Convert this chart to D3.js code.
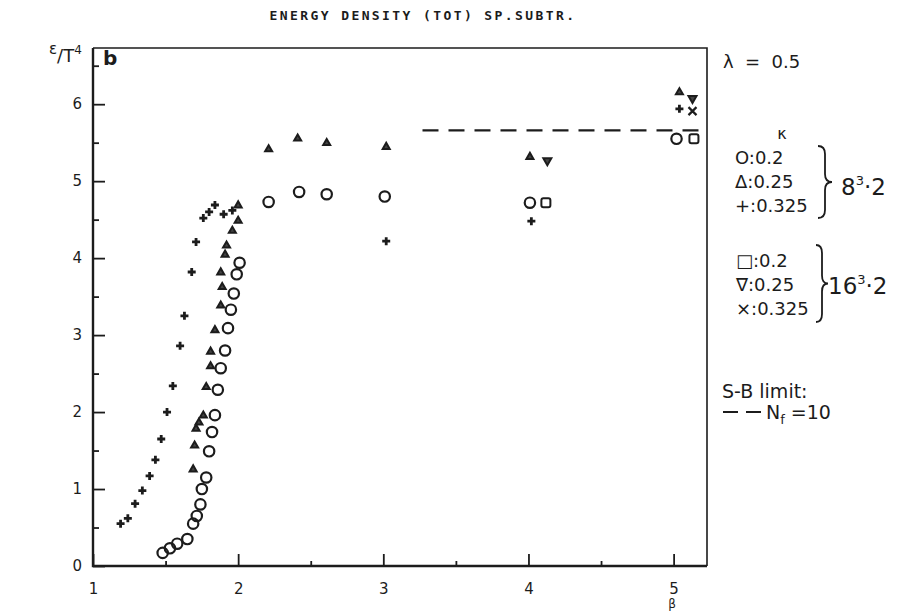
<!DOCTYPE html>
<html>
<head>
<meta charset="utf-8">
<script src="https://cdn.jsdelivr.net/npm/d3@7"></script>
<style>
  body { margin: 0; background: #fff; }
  svg text { fill: #1c1c1c; font-family: "DejaVu Sans", sans-serif; }
</style>
</head>
<body>
<div id="chart"></div>
<script>
// energy density eps/T^4 vs beta, lambda = 0.5
var circles8 = [[1.48,0.17],[1.53,0.23],[1.58,0.29],[1.65,0.35],[1.69,0.55],[1.715,0.65],[1.74,0.80],[1.75,1.0],[1.78,1.15],[1.80,1.49],[1.82,1.74],[1.84,1.96],[1.86,2.29],[1.88,2.57],[1.91,2.80],[1.93,3.09],[1.95,3.33],[1.97,3.54],[1.99,3.79],[2.01,3.94],[2.21,4.73],[2.42,4.86],[2.61,4.83],[3.01,4.80],[4.01,4.72],[5.02,5.55]];
var triangles8 = [[1.69,1.26],[1.70,1.57],[1.71,1.79],[1.73,1.87],[1.76,1.96],[1.78,2.33],[1.81,2.60],[1.81,2.79],[1.84,3.07],[1.88,3.39],[1.89,3.63],[1.88,3.82],[1.91,4.05],[1.92,4.17],[1.96,4.36],[2.0,4.49],[2.0,4.69],[2.21,5.42],[2.41,5.56],[2.61,5.50],[3.02,5.45],[4.01,5.32],[5.04,6.16]];
var plus8 = [[1.19,0.55],[1.24,0.62],[1.29,0.81],[1.34,0.98],[1.39,1.17],[1.43,1.38],[1.47,1.65],[1.51,2.0],[1.55,2.34],[1.60,2.86],[1.63,3.25],[1.68,3.82],[1.71,4.21],[1.76,4.52],[1.80,4.60],[1.84,4.69],[1.90,4.57],[1.96,4.62],[3.02,4.22],[4.02,4.48],[5.04,5.94]];
var squares16 = [[4.12,4.72],[5.14,5.55]];
var invTri16 = [[4.13,5.26],[5.13,6.07]];
var cross16 = [[5.13,5.91]];
var sbLimit = 5.66, sbStart = 3.27;

var xMajor = [1, 2, 3, 4, 5], xMinor = [1.5, 2.5, 3.5, 4.5];
var yMajor = [0, 1, 2, 3, 4, 5, 6], yMinor = [0.5, 1.5, 2.5, 3.5, 4.5, 5.5, 6.5];

var width = 897, height = 613;
var svg = d3.select("#chart").append("svg")
    .attr("width", width).attr("height", height);

var x = d3.scaleLinear().domain([1, 5.23]).range([93, 707]);
var y = d3.scaleLinear().domain([0, 6.73]).range([566, 48]);
var ink = "#1c1c1c";

// axes (ticks point inward)
var gx = svg.append("g").attr("transform", "translate(0," + y(0) + ")");
gx.call(d3.axisBottom(x).tickValues(xMajor).tickSize(-12).tickSizeOuter(0).tickPadding(17).tickFormat(d3.format("d")));
gx.append("g").call(d3.axisBottom(x).tickValues(xMinor).tickSize(-5).tickFormat(""));
var gy = svg.append("g").attr("transform", "translate(" + x(1) + ",0)");
gy.call(d3.axisLeft(y).tickValues(yMajor).tickSize(-12).tickSizeOuter(0).tickPadding(11).tickFormat(d3.format("d")));
gy.append("g").call(d3.axisLeft(y).tickValues(yMinor).tickSize(-6).tickFormat(""));
svg.selectAll(".domain").remove();
svg.selectAll(".tick line").attr("stroke", ink).attr("stroke-width", 1.8);
svg.selectAll(".tick text").style("font-size", "15px").attr("fill", ink);

// frame
svg.append("path")
    .attr("d", "M" + x(1) + "," + y(6.73) + "V" + y(0) + "H" + x(5.23))
    .attr("fill", "none").attr("stroke", ink).attr("stroke-width", 2.4);
svg.append("path")
    .attr("d", "M" + x(1) + "," + y(6.73) + "H" + x(5.23) + "V" + y(0))
    .attr("fill", "none").attr("stroke", ink).attr("stroke-width", 1.6);

// Stefan-Boltzmann limit
svg.append("line")
    .attr("x1", x(sbStart)).attr("x2", x(5.23))
    .attr("y1", y(sbLimit)).attr("y2", y(sbLimit))
    .attr("stroke", ink).attr("stroke-width", 2.4).attr("stroke-dasharray", "16,10");

var marks = svg.append("g").attr("fill", "none").attr("stroke", ink);

marks.selectAll("circle.c8").data(circles8).enter().append("circle")
    .attr("cx", function(d) { return x(d[0]); })
    .attr("cy", function(d) { return y(d[1]); })
    .attr("r", 5.2).attr("stroke-width", 2.2);

function tri(d, s, up) {
    var cx = x(d[0]), cy = y(d[1]), h = s * 0.87;
    if (up) return "M" + cx + "," + (cy - h * 0.6) + "L" + (cx + s / 2) + "," + (cy + h * 0.4) + "L" + (cx - s / 2) + "," + (cy + h * 0.4) + "Z";
    return "M" + cx + "," + (cy + h * 0.6) + "L" + (cx + s / 2) + "," + (cy - h * 0.4) + "L" + (cx - s / 2) + "," + (cy - h * 0.4) + "Z";
}

marks.selectAll("path.t8").data(triangles8).enter().append("path")
    .attr("d", function(d) { return tri(d, 7, true); })
    .attr("fill", "#444").attr("stroke-width", 2);

marks.selectAll("path.p8").data(plus8).enter().append("path")
    .attr("d", function(d) {
        var cx = x(d[0]), cy = y(d[1]);
        return "M" + (cx - 4) + "," + cy + "H" + (cx + 4) + "M" + cx + "," + (cy - 4) + "V" + (cy + 4);
    })
    .attr("stroke-width", 2.8);

marks.selectAll("rect.s16").data(squares16).enter().append("rect")
    .attr("x", function(d) { return x(d[0]) - 4.5; })
    .attr("y", function(d) { return y(d[1]) - 4.5; })
    .attr("width", 9).attr("height", 9).attr("rx", 2).attr("stroke-width", 2);

marks.selectAll("path.v16").data(invTri16).enter().append("path")
    .attr("d", function(d) { return tri(d, 8, false); })
    .attr("fill", "#444").attr("stroke-width", 2);

marks.selectAll("path.x16").data(cross16).enter().append("path")
    .attr("d", function(d) {
        var cx = x(d[0]), cy = y(d[1]);
        return "M" + (cx - 4) + "," + (cy - 4) + "L" + (cx + 4) + "," + (cy + 4) + "M" + (cx + 4) + "," + (cy - 4) + "L" + (cx - 4) + "," + (cy + 4);
    })
    .attr("stroke-width", 2.2);

// titles and labels
svg.append("text").attr("x", 423).attr("y", 20).attr("text-anchor", "middle")
    .style("font-family", "'DejaVu Sans Mono', monospace").style("font-size", "13px")
    .style("font-weight", "bold").style("letter-spacing", "2.4px")
    .text("ENERGY DENSITY (TOT) SP.SUBTR.");

svg.append("text").attr("x", 103).attr("y", 65)
    .style("font-size", "20px").style("font-weight", "bold").text("b");

var yl = svg.append("text").attr("x", 49).attr("y", 62).style("font-size", "18px");
yl.append("tspan").attr("dy", -8).style("font-size", "15px").text("ε");
yl.append("tspan").attr("dy", 8).text("/T");
yl.append("tspan").attr("dy", -8).style("font-size", "12px").text("4");

svg.append("text").attr("x", 672).attr("y", 608).attr("text-anchor", "middle")
    .style("font-size", "12px").text("β");

// legend
var leg = svg.append("g").style("font-family", "'Liberation Sans', sans-serif");
leg.append("text").attr("x", 723).attr("y", 68).style("font-size", "18px")
    .attr("xml:space", "preserve").text("λ  =  0.5");
leg.append("text").attr("x", 782).attr("y", 139).attr("text-anchor", "middle")
    .style("font-family", "'DejaVu Sans', sans-serif").style("font-size", "16px").text("κ");

var rows8 = ["O:0.2", "Δ:0.25", "+:0.325"];
var rows16 = ["□:0.2", "∇:0.25", "×:0.325"];
leg.selectAll("text.r8").data(rows8).enter().append("text")
    .attr("x", 735).attr("y", function(d, i) { return 164 + i * 24; })
    .style("font-size", "18px").text(function(d) { return d; });
leg.selectAll("text.r16").data(rows16).enter().append("text")
    .attr("x", 736).attr("y", function(d, i) { return 267 + i * 24; })
    .style("font-size", "18px").text(function(d) { return d; });

function brace(x0, y0, y1, w) {
    var m = (y0 + y1) / 2;
    return "M" + x0 + "," + y0 + "Q" + (x0 + w * 0.5) + "," + y0 + " " + (x0 + w * 0.5) + "," + (y0 + 8)
        + "L" + (x0 + w * 0.5) + "," + (m - 8) + "Q" + (x0 + w * 0.5) + "," + m + " " + (x0 + w) + "," + m
        + "Q" + (x0 + w * 0.5) + "," + m + " " + (x0 + w * 0.5) + "," + (m + 8)
        + "L" + (x0 + w * 0.5) + "," + (y1 - 8) + "Q" + (x0 + w * 0.5) + "," + y1 + " " + x0 + "," + y1;
}
leg.append("path").attr("d", brace(818, 146, 218, 14))
    .attr("fill", "none").attr("stroke", ink).attr("stroke-width", 1.8);
leg.append("path").attr("d", brace(816, 245, 322, 12))
    .attr("fill", "none").attr("stroke", ink).attr("stroke-width", 1.8);

var l8 = leg.append("text").attr("x", 841).attr("y", 195).style("font-size", "23px");
l8.append("tspan").text("8");
l8.append("tspan").attr("dy", -10).style("font-size", "13px").text("3");
l8.append("tspan").attr("dy", 10).text("·2");
var l16 = leg.append("text").attr("x", 828).attr("y", 294).style("font-size", "23px");
l16.append("tspan").text("16");
l16.append("tspan").attr("dy", -10).style("font-size", "13px").text("3");
l16.append("tspan").attr("dy", 10).text("·2");

leg.append("text").attr("x", 722).attr("y", 398).style("font-size", "19px").text("S-B limit:");
leg.append("line").attr("x1", 723).attr("x2", 762).attr("y1", 412).attr("y2", 412)
    .attr("stroke", ink).attr("stroke-width", 2).attr("stroke-dasharray", "15,8");
var nf = leg.append("text").attr("x", 766).attr("y", 419).style("font-size", "19px");
nf.append("tspan").text("N");
nf.append("tspan").attr("dy", 5).style("font-size", "13px").text("f");
nf.append("tspan").attr("dy", -5).attr("xml:space", "preserve").text(" =10");
</script>
</body>
</html>
